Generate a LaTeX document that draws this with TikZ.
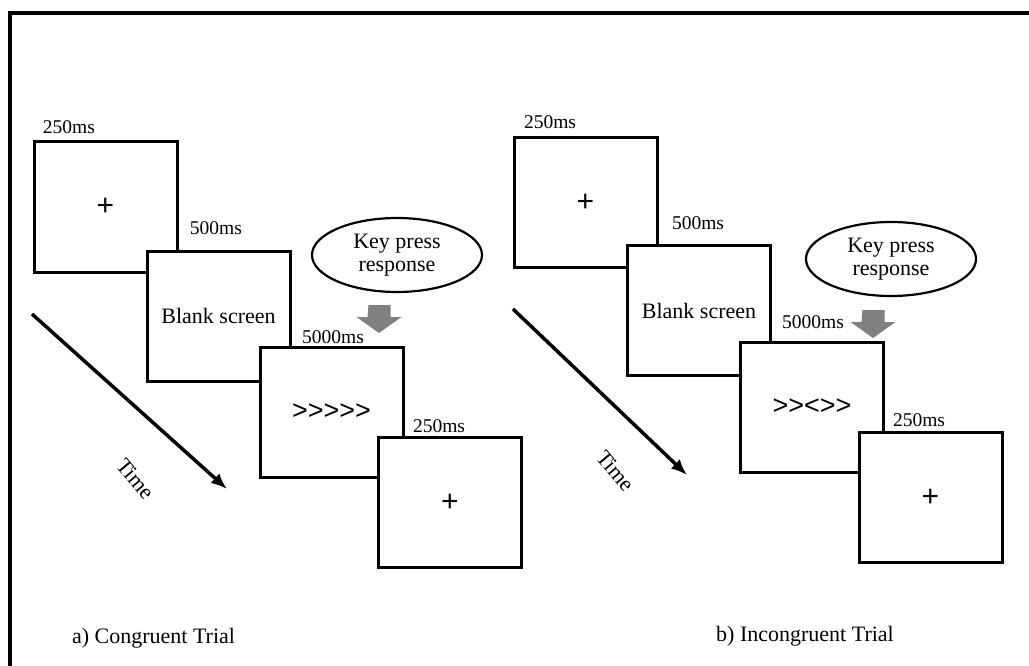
\documentclass[tikz,border=0pt]{standalone}
\usepackage{fontspec}
\setmainfont{Liberation Serif}
\newfontfamily\stimfont{Liberation Sans}
\usetikzlibrary{arrows.meta,positioning,shapes.geometric}
\definecolor{keygray}{RGB}{128,128,128}

\begin{document}
\begin{tikzpicture}[
  x=1pt, y=-1pt,
  screen/.style={rectangle, draw, fill=white, line width=3pt, minimum width=143pt, minimum height=130pt, inner sep=0pt, font=\fontsize{22}{24}\selectfont},
  dur/.style={font=\fontsize{19.5}{22}\selectfont, inner sep=0pt},
  resp/.style={ellipse, draw, line width=2.2pt, minimum width=170pt, minimum height=74pt, inner sep=0pt, align=center, font=\fontsize{22}{23}\selectfont},
  timearrow/.style={-{Latex[length=16pt,width=13pt]}, line width=3.5pt},
  caption/.style={font=\fontsize{22}{24}\selectfont}
]
\useasboundingbox (0,0) rectangle (1029,666);
\draw[line width=4pt] (10,666) |- (1029,13);

% a) congruent trial
\node[screen] (fixA) at (105.5,207) {\stimfont\fontsize{30}{32}\selectfont +};
\node[screen] (blankA) at (218.5,316) {Blank screen};
\node[screen] (flankA) at (331.5,412) {\stimfont\fontsize{27}{30}\selectfont >{}>{}>{}>{}>};
\node[screen] (endA) at (450,502.5) {\stimfont\fontsize{30}{32}\selectfont +};
\node[dur] (dfixA) at (69,127) {250ms};
\node[dur] (dblankA) at (216,228) {500ms};
\node[dur] (dflankA) at (333,337) {5000ms};
\node[dur] (dendA) at (439,426) {250ms};
\node[resp] (keyA) at (397,255) {Key press\\response};
\coordinate (tA0) at (32,314);
\coordinate (tA1) at (227,489);
\draw[timearrow] (tA0) -- (tA1);
\node[caption, rotate=-50] (timeA) at (136,479) {Time};
\node[caption] (capA) at (153.5,638) {a) Congruent Trial};

% b) incongruent trial
\node[screen] (fixB) at (585.5,202.5) {\stimfont\fontsize{30}{32}\selectfont +};
\node[screen] (blankB) at (699,310.5) {Blank screen};
\node[screen] (flankB) at (812,407) {\stimfont\fontsize{27}{30}\selectfont >{}><{}>{}>};
\node[screen] (endB) at (930.5,497.5) {\stimfont\fontsize{30}{32}\selectfont +};
\node[dur] (dfixB) at (550,122) {250ms};
\node[dur] (dblankB) at (698,223) {500ms};
\node[dur] (dflankB) at (813,322) {5000ms};
\node[dur] (dendB) at (919,420) {250ms};
\node[resp] (keyB) at (891,259) {Key press\\response};
\coordinate (tB0) at (513,309);
\coordinate (tB1) at (687,475);
\draw[timearrow] (tB0) -- (tB1);
\node[caption, rotate=-50] (timeB) at (616,471) {Time};
\node[caption] (capB) at (805,636) {b) Incongruent Trial};

% key press arrows
\foreach \ax/\ay in {379.5/305, 873.5/310}
  \fill[keygray] (\ax-11,\ay) -- ++(22,0) -- ++(0,12) -- ++(11,0) -- ++(-22.5,16) -- ++(-22.5,-16) -- ++(11,0) -- cycle;
\end{tikzpicture}
\end{document}
